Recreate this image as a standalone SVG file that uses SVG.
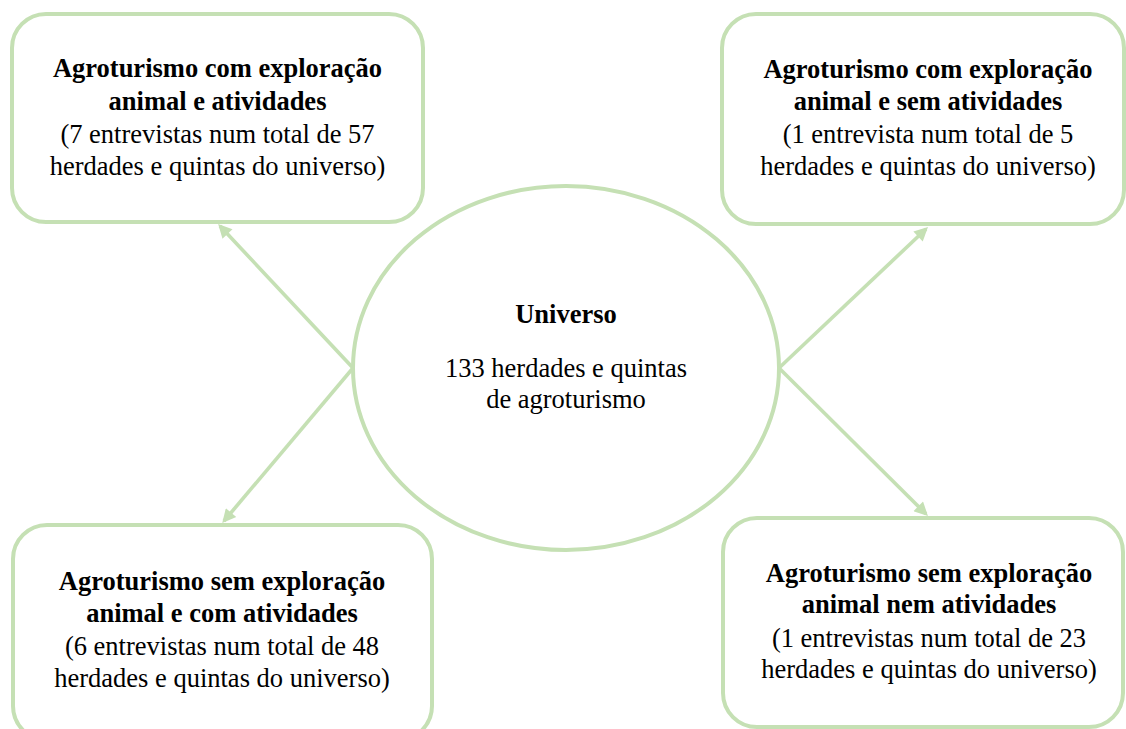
<svg xmlns="http://www.w3.org/2000/svg" width="1126" height="729" viewBox="0 0 1126 729">
<defs>
<style>
.box{fill:#ffffff;stroke:#c5e0b4;stroke-width:4}
.conn{stroke:#c5e0b4;stroke-width:3.6;fill:none}
text{font-family:"Liberation Serif","Times New Roman",serif;font-size:26.5px;fill:#000;text-anchor:middle}
.b{font-weight:bold}
</style>
<marker id="ah" viewBox="0 0 10 10" markerWidth="4.6" markerHeight="3.8" refX="8" refY="5" orient="auto" markerUnits="strokeWidth">
<path d="M0,0 L10,5 L0,10 Z" fill="#c5e0b4"/>
</marker>
</defs>
<rect width="1126" height="729" fill="#ffffff"/>
<g id="connectors">
<line class="conn" x1="353" y1="368" x2="220" y2="226" marker-end="url(#ah)"/>
<line class="conn" x1="353" y1="368" x2="224" y2="521" marker-end="url(#ah)"/>
<line class="conn" x1="779" y1="368" x2="926" y2="229" marker-end="url(#ah)"/>
<line class="conn" x1="779" y1="368" x2="926" y2="514" marker-end="url(#ah)"/>
</g>
<g id="node-universo">
<ellipse class="box" cx="566" cy="368" rx="213" ry="182"/>
<text class="b" x="566" y="323">Universo</text>
<text x="566" y="377">133 herdades e quintas</text>
<text x="566" y="408">de agroturismo</text>
</g>
<g id="node-top-left">
<rect class="box" x="12" y="14" width="411" height="208" rx="34"/>
<text class="b" x="217.5" y="77">Agroturismo com exploração</text>
<text class="b" x="217.5" y="110">animal e atividades</text>
<text x="217.5" y="143">(7 entrevistas num total de 57</text>
<text x="217.5" y="175">herdades e quintas do universo)</text>
</g>
<g id="node-top-right">
<rect class="box" x="722" y="14" width="402" height="210" rx="34"/>
<text class="b" x="928" y="78">Agroturismo com exploração</text>
<text class="b" x="928" y="110">animal e sem atividades</text>
<text x="928" y="143">(1 entrevista num total de 5</text>
<text x="928" y="175">herdades e quintas do universo)</text>
</g>
<g id="node-bottom-left">
<rect class="box" x="13" y="525" width="419" height="215" rx="34"/>
<text class="b" x="222" y="590">Agroturismo sem exploração</text>
<text class="b" x="222" y="622">animal e com atividades</text>
<text x="222" y="655">(6 entrevistas num total de 48</text>
<text x="222" y="687">herdades e quintas do universo)</text>
</g>
<g id="node-bottom-right">
<rect class="box" x="723" y="518" width="400" height="209" rx="34"/>
<text class="b" x="929" y="582">Agroturismo sem exploração</text>
<text class="b" x="929" y="613">animal nem atividades</text>
<text x="929" y="647">(1 entrevistas num total de 23</text>
<text x="929" y="678">herdades e quintas do universo)</text>
</g>
</svg>
